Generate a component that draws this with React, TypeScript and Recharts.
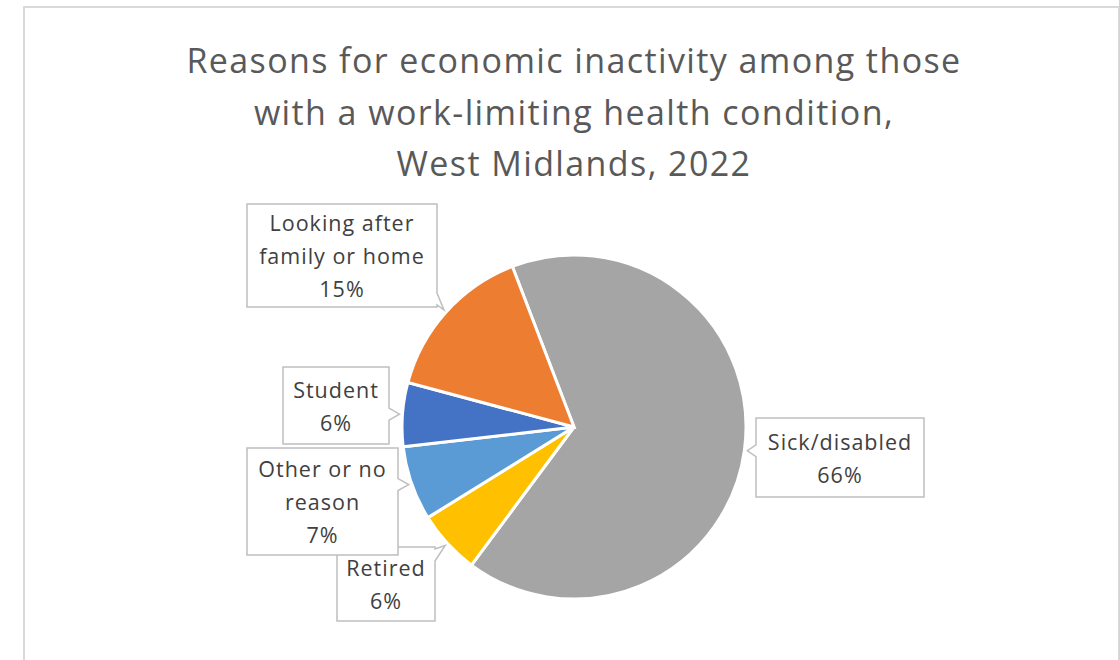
import React from 'react';
import { PieChart, Pie, Cell } from 'recharts';

const categories = ['Sick/disabled', 'Retired', 'Other or no reason', 'Student', 'Looking after family or home'];
const shares = [66, 6, 7, 6, 15];
const colors = ['#A5A5A5', '#FFC000', '#5B9BD5', '#4472C4', '#ED7D31'];
const labelLines = [
  ['Sick/disabled'],
  ['Retired'],
  ['Other or no', 'reason'],
  ['Student'],
  ['Looking after', 'family or home'],
];
const titleLines = [
  'Reasons for economic inactivity among those',
  'with a work-limiting health condition,',
  'West Midlands, 2022',
];

const data = categories.map((c, i) => ({ name: c, value: shares[i] }));

// layout of label callout boxes (page pixels)
const boxes = [
  { x: 756, y: 418, w: 168, h: 79 },
  { x: 337, y: 547, w: 98, h: 74 },
  { x: 247, y: 448, w: 151, h: 107 },
  { x: 283, y: 367, w: 106, h: 77 },
  { x: 247, y: 204, w: 190, h: 103 },
];

const FONT = "'Open Sans', 'Noto Sans', sans-serif";
const RAD = Math.PI / 180;

function calloutPath(b: { x: number; y: number; w: number; h: number }, tx: number, ty: number) {
  const { x, y, w, h } = b;
  const half = 6;
  if (tx > x + w) {
    const c = Math.min(Math.max(ty, y + half + 2), y + h - half - 2);
    return `M${x},${y} H${x + w} V${c - half} L${tx},${ty} L${x + w},${c + half} V${y + h} H${x} Z`;
  }
  if (tx < x) {
    const c = Math.min(Math.max(ty, y + half + 2), y + h - half - 2);
    return `M${x},${y} H${x + w} V${y + h} H${x} V${c + half} L${tx},${ty} L${x},${c - half} Z`;
  }
  return `M${x},${y} H${x + w} V${y + h} H${x} Z`;
}

const renderLabel = (props: any) => {
  const { cx, cy, midAngle, outerRadius, index, value } = props;
  const r = outerRadius + 3;
  const tx = cx + r * Math.cos(-midAngle * RAD);
  const ty = cy + r * Math.sin(-midAngle * RAD);
  const b = boxes[index];
  const lines = [...labelLines[index], `${value}%`];
  const lh = 33;
  const mid = b.y + b.h / 2;
  const first = mid - ((lines.length - 1) * lh) / 2;
  return (
    <g key={`lbl-${index}`}>
      <path d={calloutPath(b, tx, ty)} fill="#FFFFFF" stroke="#BFBFBF" strokeWidth={1.5} />
      {lines.map((t, i) => (
        <text
          key={i}
          x={b.x + b.w / 2}
          y={first + i * lh}
          textAnchor="middle"
          dominantBaseline="central"
          fill="#404040"
          fontSize={21.5}
          letterSpacing={1}
          fontFamily={FONT}
        >
          {t}
        </text>
      ))}
    </g>
  );
};

export default function App() {
  return (
    <div style={{ position: 'fixed', left: 0, top: 0, width: 1119, height: 660, background: '#fff', overflow: 'hidden' }}>
      <div
        style={{
          position: 'absolute',
          left: 23,
          top: 6,
          width: 1093,
          height: 700,
          border: '2px solid #D9D9D9',
          boxSizing: 'content-box',
        }}
      />
      <div style={{ position: 'absolute', left: 0, top: 0 }}>
        <PieChart width={1119} height={660} margin={{ top: 0, right: 0, bottom: 0, left: 0 }}>
          <Pie
            data={data}
            dataKey="value"
            nameKey="name"
            cx={574}
            cy={427}
            outerRadius={172}
            startAngle={111}
            endAngle={-249}
            stroke="#FFFFFF"
            strokeWidth={3}
            isAnimationActive={false}
            labelLine={false}
            label={renderLabel}
          >
            {data.map((d, i) => (
              <Cell key={d.name} fill={colors[i]} />
            ))}
          </Pie>
        </PieChart>
      </div>
      <svg style={{ position: 'absolute', left: 0, top: 0, pointerEvents: 'none' }} width={1119} height={660}>
        {titleLines.map((t, i) => (
          <text
            key={i}
            x={574}
            y={60 + i * 51.5}
            textAnchor="middle"
            dominantBaseline="central"
            fill="#595959"
            fontSize={34}
            letterSpacing={1.4}
            fontFamily={FONT}
          >
            {t}
          </text>
        ))}
      </svg>
    </div>
  );
}
